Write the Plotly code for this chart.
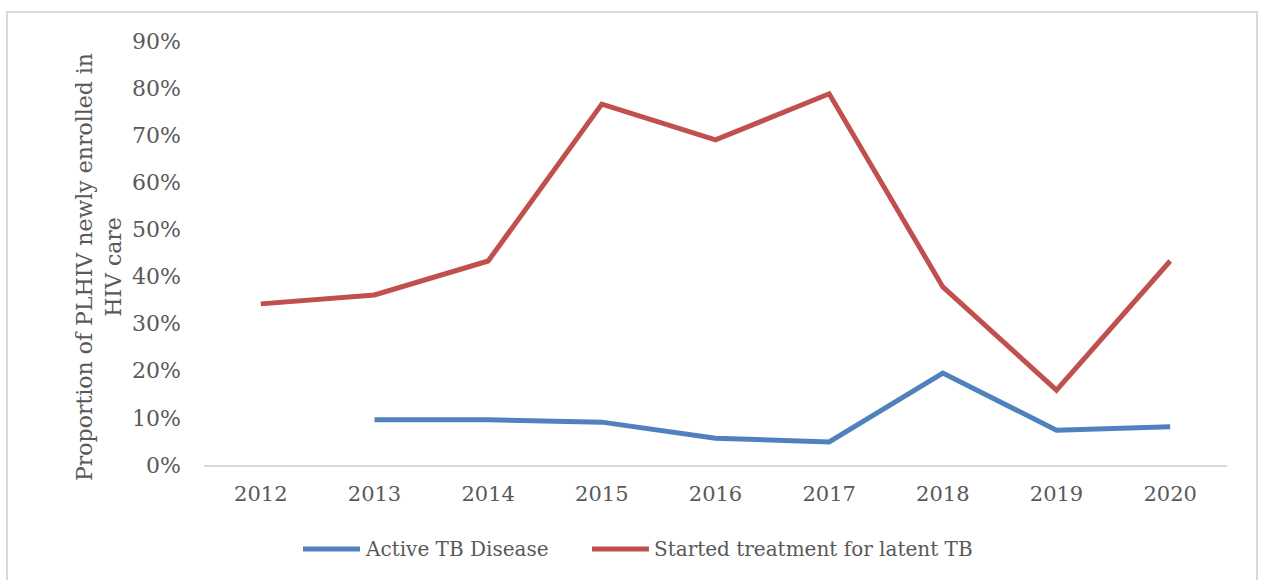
import plotly.graph_objects as go

years = ["2012", "2013", "2014", "2015", "2016", "2017", "2018", "2019", "2020"]
active_tb = [None, 0.096, 0.096, 0.091, 0.057, 0.049, 0.195, 0.074, 0.081]
latent_tb = [0.342, 0.361, 0.433, 0.766, 0.690, 0.788, 0.378, 0.159, 0.433]
y_ticks = [0, 0.1, 0.2, 0.3, 0.4, 0.5, 0.6, 0.7, 0.8, 0.9]

series_names = ["Active TB Disease", "Started treatment for latent TB"]
series_colors = ["#4F81BD", "#C0504D"]

W, H = 1264, 580
L, R, T, B = 204, 37, 41, 115
pw, ph = W - L - R, H - T - B

FONT = "DejaVu Serif"
GREY = "#595959"


def px_x(p):
    return (p - L) / pw


def px_y(p):
    return (H - B - p) / ph


fig = go.Figure()
for name, vals, col in zip(series_names, [active_tb, latent_tb], series_colors):
    fig.add_trace(go.Scatter(x=years, y=vals, mode="lines", name=name,
                             line=dict(color=col, width=5), connectgaps=False,
                             showlegend=False))

# outer chart frame
fig.add_shape(type="rect", xref="paper", yref="paper",
              x0=px_x(7), x1=px_x(1257), y0=px_y(600), y1=px_y(12),
              line=dict(color="#D9D9D9", width=2), layer="below")

# legend row below the plot: swatch line + label for each series
legend_y = px_y(549)
for (x0, x1, xt), name, col in zip([(303, 360, 363), (592, 649, 652)], series_names, series_colors):
    fig.add_shape(type="line", xref="paper", yref="paper",
                  x0=px_x(x0), x1=px_x(x1), y0=legend_y, y1=legend_y,
                  line=dict(color=col, width=5))
    fig.add_annotation(xref="paper", yref="paper", x=px_x(xt), y=legend_y,
                       xanchor="left", yanchor="middle", showarrow=False, text=name,
                       font=dict(family=FONT, size=20, color=GREY))

# y-axis title, two lines, rotated
fig.add_annotation(xref="paper", yref="paper", x=px_x(99), y=px_y(267),
                   xanchor="center", yanchor="middle", showarrow=False, textangle=-90,
                   text="Proportion of PLHIV newly enrolled in<br>HIV care",
                   font=dict(family=FONT, size=22, color=GREY))

fig.update_layout(
    width=W, height=H,
    margin=dict(l=L, r=R, t=T, b=B, autoexpand=False),
    paper_bgcolor="white", plot_bgcolor="white",
    font=dict(family=FONT, size=22, color=GREY),
    showlegend=False,
    xaxis=dict(type="category", range=[-0.5, 8.5], showgrid=False, zeroline=False,
               showline=True, linecolor="#D9D9D9", linewidth=1.5, ticks="",
               ticklabelstandoff=9,
               tickfont=dict(family=FONT, size=21, color=GREY)),
    yaxis=dict(range=[0, 0.9], tickvals=y_ticks, tickformat=".0%", showgrid=False,
               zeroline=False, showline=False, ticks="", ticklabelstandoff=22,
               tickfont=dict(family=FONT, size=22, color=GREY)),
)

fig.write_html("out.html")
